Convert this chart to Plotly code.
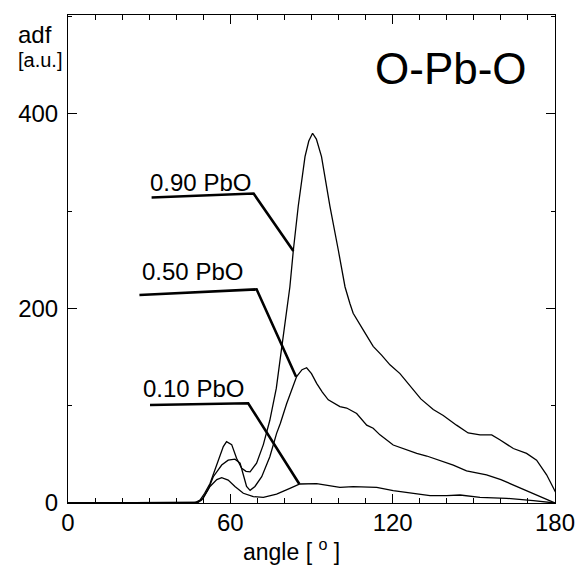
import plotly.graph_objects as go

# ---- data ----
x_010 = [0, 45, 48, 49.4, 51, 52.5, 55, 56.8, 59.2, 61.7, 64.8, 68.5, 72.2, 77.1, 82, 85.7,
         91.9, 95.6, 100.5, 105.4, 110, 114.1, 120.2, 126.4, 133.8, 140, 144.9, 152.3,
         162.1, 172, 180]
y_010 = [0, 0, 0.5, 3, 10, 17, 24, 26, 23.6, 17, 10, 6.5, 5.8, 9.2, 15, 19.5,
         20, 18.5, 16, 16.8, 16, 16, 12.7, 10.6, 7.5, 7.5, 8.2, 5.8,
         4.8, 2.4, 0]

x_050 = [0, 46, 48, 50, 51.8, 53.7, 56.8, 59.2, 61.7, 63.6, 64.8, 66, 67.3, 69.1, 71.6,
         74.6, 77.1, 78.5, 80.8, 84.5, 86.5, 88.2, 90, 91.9, 94, 96.2, 100.5, 103,
         106.7, 110.4, 112.8, 115.3, 120.2, 125.2, 128.9, 132.6, 137, 142.4, 147.3,
         154.7, 160, 164.6, 170, 174.4, 180]
y_050 = [0, 0, 1, 5, 14, 27, 39, 44, 45, 41, 29, 17, 13, 17, 27,
         47.6, 71.6, 82, 102, 130, 137, 139, 133, 123, 114, 106, 99, 97.6,
         92, 80, 76.8, 70, 59.6, 54.5, 51, 48.3, 44, 39, 33,
         28.8, 24, 18.5, 12.5, 6.5, 0]

x_090 = [0, 45, 47, 48.8, 50.5, 52.5, 55.5, 57.4, 58.6, 60.5, 62.3, 64.2, 65.8, 67.3,
         69.7, 72.2, 74.6, 77, 79, 80.5, 82, 83.3, 85.1, 87.6, 89, 90.4, 91.8, 93.7,
         96.8, 99.9, 102.4, 104.2, 105.4, 109.1, 112.8, 115.9, 119, 122.7, 126.4,
         130.4, 135, 138.7, 143.6, 147.9, 152.3, 156.6, 159.6, 164.6, 169.5, 173.2,
         176.9, 180, 181.5]
y_090 = [0, 0, 0.5, 3, 10, 20, 44, 58, 63, 60, 46, 35.6, 32.5, 32,
         41, 60, 85, 118, 160, 190, 222, 260, 305, 356, 372, 380, 374, 356,
         305, 260, 222, 205, 195, 178, 161, 152, 142, 133, 121,
         107, 96, 90, 80, 72, 70, 70, 65, 56, 51, 44,
         29, 11.6, 4]

series_names = ["0.10 PbO", "0.50 PbO", "0.90 PbO"]

# leader lines for the curve labels (label anchor -> curve)
lead_x = {"0.90 PbO": [30.9, 68.6, 83.3],
          "0.50 PbO": [26.4, 69.7, 84.3],
          "0.10 PbO": [30.3, 66.6, 85.5]}
lead_y = {"0.90 PbO": [314, 318, 259],
          "0.50 PbO": [213.8, 219.6, 129.8],
          "0.10 PbO": [100.7, 102.5, 19.5]}
label_x = {"0.90 PbO": 48.8, "0.50 PbO": 46.0, "0.10 PbO": 46.2}
label_y = {"0.90 PbO": 329.4, "0.50 PbO": 237.4, "0.10 PbO": 117.7}

x_ticks = [0, 60, 120, 180]
y_ticks = [0, 200, 400]

FONT = "Liberation Sans, Arial, Helvetica, sans-serif"

fig = go.Figure()
for xs, ys, name in [(x_010, y_010, series_names[0]),
                     (x_050, y_050, series_names[1]),
                     (x_090, y_090, series_names[2])]:
    fig.add_trace(go.Scatter(x=xs, y=ys, mode="lines", name=name,
                             line=dict(color="black", width=1.3)))

for name in series_names:
    fig.add_trace(go.Scatter(x=lead_x[name], y=lead_y[name], mode="lines",
                             line=dict(color="black", width=2.6),
                             showlegend=False, hoverinfo="skip"))
    fig.add_annotation(x=label_x[name], y=label_y[name], text=name, showarrow=False,
                       xanchor="center", yanchor="middle",
                       font=dict(size=24, color="black", family=FONT))

fig.add_annotation(x=141.7, y=447, text="O-Pb-O", showarrow=False,
                   xanchor="center", yanchor="middle",
                   font=dict(size=44, color="black", family=FONT))
fig.add_annotation(xref="paper", yref="paper", x=-0.0678, y=0.961, text="adf",
                   xanchor="center", yanchor="middle",
                   showarrow=False, font=dict(size=24, color="black", family=FONT))
fig.add_annotation(xref="paper", yref="paper", x=-0.0575, y=0.908, text="[a.u.]",
                   xanchor="center", yanchor="middle",
                   showarrow=False, font=dict(size=20, color="black", family=FONT))
fig.add_annotation(xref="paper", yref="paper", x=0.458, y=-0.097,
                   xanchor="center", yanchor="middle",
                   text="angle [ <sup>o</sup> ]", showarrow=False,
                   font=dict(size=23, color="black", family=FONT))

fig.update_xaxes(range=[0, 180], tickvals=x_ticks, ticks="inside", ticklen=9,
                 tickwidth=1, tickcolor="black", showline=True, linecolor="black",
                 linewidth=1, mirror="ticks", showgrid=False, zeroline=False,
                 automargin=False, ticklabelstandoff=-2,
                 tickfont=dict(size=24, color="black", family=FONT),
                 minor=dict(dtick=10, ticks="inside", ticklen=5, tickcolor="black",
                            showgrid=False))
fig.update_yaxes(range=[0, 501.5], tickvals=y_ticks, ticks="inside", ticklen=9,
                 tickwidth=1, tickcolor="black", showline=True, linecolor="black",
                 linewidth=1, mirror="ticks", showgrid=False, zeroline=False,
                 automargin=False, ticklabelstandoff=4,
                 tickfont=dict(size=24, color="black", family=FONT),
                 minor=dict(dtick=100, ticks="inside", ticklen=4, tickcolor="black",
                            showgrid=False))

fig.update_layout(width=582, height=570, showlegend=False,
                  plot_bgcolor="white", paper_bgcolor="white",
                  margin=dict(l=68, r=27, t=15, b=67),
                  font=dict(family=FONT, color="black"))

fig.write_html("out.html", config={"displayModeBar": False},
               post_script="document.body.style.margin='0';document.body.style.padding='0';")
